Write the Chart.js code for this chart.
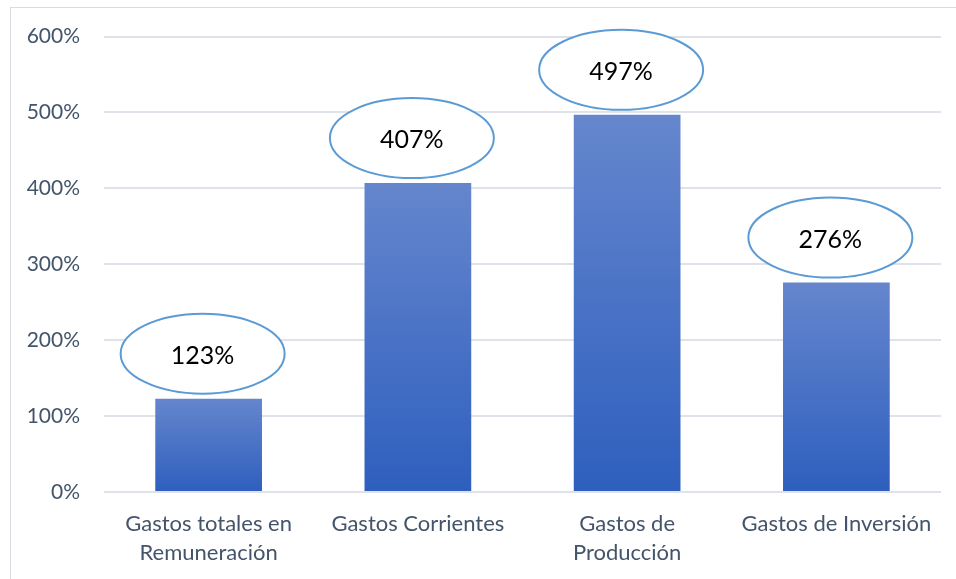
<!DOCTYPE html>
<html>
<head>
<meta charset="utf-8">
<script src="https://cdn.jsdelivr.net/npm/chart.js@4.4.0/dist/chart.umd.min.js"></script>
<style>
    html, body { margin: 0; padding: 0; background: #fff; overflow: hidden; }
    #wrap { position: relative; width: 956px; height: 579px; }
    #frame { position: absolute; left: 10px; top: 7px; width: 960px; height: 600px; border: 1px solid #d9dde3; box-sizing: border-box; }
    canvas { position: absolute; left: 0; top: 0; }
</style>
</head>
<body>
<div id="wrap">
    <div id="frame"></div>
    <canvas id="chart" width="956" height="579"></canvas>
</div>
<script>
"use strict";

// categorias y valores
const categories = [
    ['Gastos totales en', 'Remuneración'],
    'Gastos Corrientes',
    ['Gastos de', 'Producción'],
    'Gastos de Inversión',
];
const values = [123, 407, 497, 276];
const yTicks = [0, 100, 200, 300, 400, 500, 600];

const textColor = '#44546a';
const fontFamily = 'Lato, "Open Sans", sans-serif';

//elipses con etiqueta
const ellipseLabels = {
    id: 'ellipseLabels',
    afterDatasetsDraw(chart) {
        const c = chart.ctx;
        const meta = chart.getDatasetMeta(0);
        meta.data.forEach(function(bar, i){
            const cx = bar.x - 6;
            const cy = bar.y - 45;
            c.save();
            c.beginPath();
            c.ellipse(cx, cy, 82, 40, 0, 0, Math.PI * 2);
            c.fillStyle = '#ffffff';
            c.fill();
            c.lineWidth = 2;
            c.strokeStyle = '#5b9bd5';
            c.stroke();
            c.fillStyle = '#000000';
            c.font = '25px ' + fontFamily;
            c.textAlign = 'center';
            c.textBaseline = 'middle';
            c.fillText(values[i] + '%', cx, cy + 2);
            c.restore();
        });
    }
};

let ctx = document.getElementById('chart');

const data = {
    labels: categories,
    datasets: [{
        data: values,
        backgroundColor: function(context){
            const chart = context.chart;
            const area = chart.chartArea;
            if (!area || !chart.scales.y) return '#4472c4';
            const top = chart.scales.y.getPixelForValue(context.raw);
            if (!isFinite(top) || !isFinite(area.bottom)) return '#4472c4';
            const g = chart.ctx.createLinearGradient(0, top, 0, area.bottom);
            g.addColorStop(0, '#6586cd');
            g.addColorStop(1, '#2e5fbe');
            return g;
        },
        borderWidth: 0,
        barPercentage: 0.51,
        categoryPercentage: 1,
    }]
};

const config = {
    type: 'bar',
    data: data,
    plugins: [ellipseLabels],
    options: {
        responsive: false,
        animation: false,
        layout: {
            padding: { top: 28, right: 15, left: 0, bottom: 0 },
        },
        scales: {
            x: {
                grid: { display: false },
                border: { display: false },
                ticks: {
                    color: textColor,
                    padding: 10,
                    maxRotation: 0,
                    font: { family: fontFamily, size: 22, lineHeight: 1.3 },
                },
                afterFit: function(scale){ scale.height = 87; },
            },
            y: {
                min: 0,
                max: 600,
                afterBuildTicks: function(scale){
                    scale.ticks = yTicks.map(function(v){ return { value: v }; });
                },
                grid: {
                    color: '#dfe3e9',
                    lineWidth: 2,
                    drawTicks: false,
                },
                border: { display: false },
                ticks: {
                    color: textColor,
                    padding: 24,
                    font: { family: fontFamily, size: 21 },
                    callback: function(v){ return v + '%'; },
                },
                afterFit: function(scale){ scale.width = 104; },
            },
        },
        plugins: {
            legend: { display: false },
            tooltip: { enabled: false },
        },
    },
};

let barChart = new Chart(ctx, config);
</script>
</body>
</html>
